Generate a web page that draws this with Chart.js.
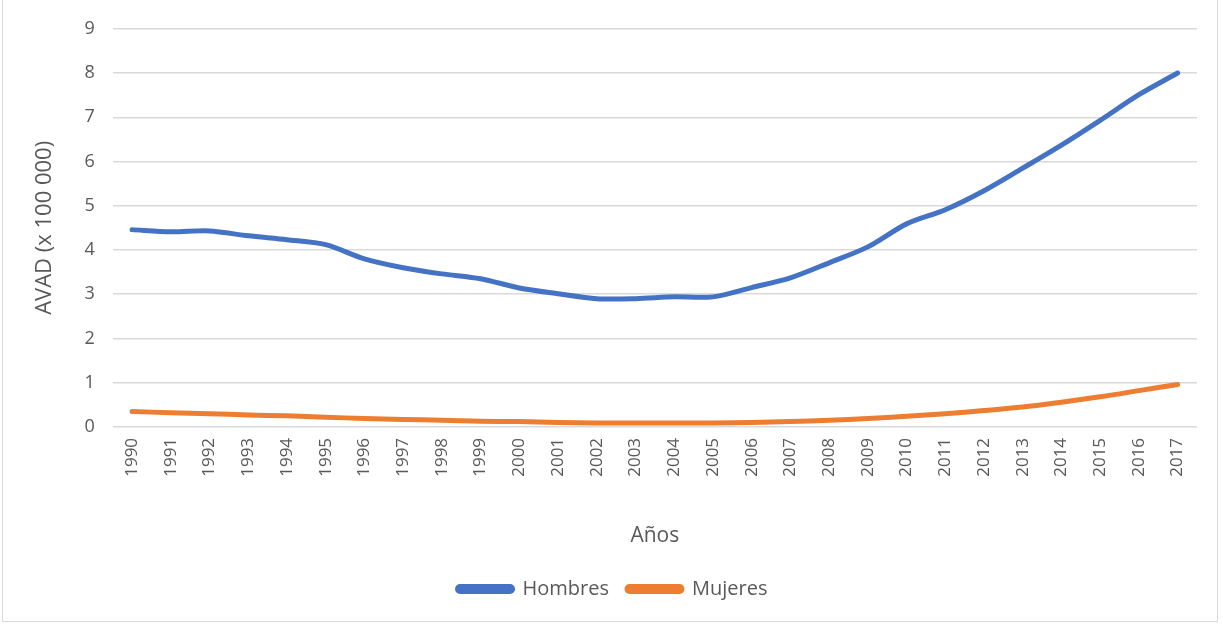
<!DOCTYPE html>
<html>
<head>
<meta charset="utf-8">
<script src="https://cdn.jsdelivr.net/npm/chart.js@4/dist/chart.umd.min.js"></script>
<style>
  html, body { margin: 0; padding: 0; background: #fff; }
  #frame {
    position: absolute; left: 2px; top: -1px;
    width: 1216px; height: 623px;
    border: 1px solid #d9d9d9; box-sizing: border-box;
  }
  #frame canvas { display: block; }
</style>
</head>
<body>
<div id="frame"><canvas id="chart"></canvas></div>
<script>
    // Series values (AVAD x 100 000)
    const years = ['1990', '1991', '1992', '1993', '1994', '1995', '1996', '1997', '1998', '1999',
        '2000', '2001', '2002', '2003', '2004', '2005', '2006', '2007', '2008', '2009',
        '2010', '2011', '2012', '2013', '2014', '2015', '2016', '2017'];

    const hombres = [4.46, 4.41, 4.43, 4.32, 4.23, 4.12, 3.80, 3.60, 3.46, 3.35,
        3.14, 3.01, 2.90, 2.90, 2.94, 2.94, 3.15, 3.37, 3.71, 4.07,
        4.59, 4.91, 5.34, 5.85, 6.37, 6.93, 7.51, 8.00];

    const mujeres = [0.35, 0.32, 0.30, 0.27, 0.25, 0.22, 0.19, 0.17, 0.15, 0.13,
        0.12, 0.10, 0.09, 0.09, 0.09, 0.09, 0.10, 0.12, 0.15, 0.19,
        0.24, 0.30, 0.37, 0.45, 0.56, 0.68, 0.82, 0.96];

    const seriesNames = ['Hombres', 'Mujeres'];
    const seriesColors = ['#4472C4', '#ED7D31'];

    const textColor = '#595959';
    const gridColor = '#d9d9d9';
    const font = "'Open Sans', 'Noto Sans', sans-serif";

    function makeDataset(label, values, color) {
        return {
            label: label,
            data: values,
            borderColor: color,
            backgroundColor: color,
            borderWidth: 5,
            tension: 0.3,
            pointRadius: 0,
            fill: false,
            borderCapStyle: 'round'
        };
    }

    new Chart(document.getElementById('chart'), {
        type: 'line',
        data: {
            labels: years,
            datasets: [
                makeDataset(seriesNames[0], hombres, seriesColors[0]),
                makeDataset(seriesNames[1], mujeres, seriesColors[1])
            ]
        },
        options: {
            responsive: true,
            maintainAspectRatio: false,
            animation: false,
            layout: {
                padding: { left: 25, right: 20, top: 27, bottom: 12 }
            },
            scales: {
                x: {
                    offset: true,
                    grid: { display: false, drawTicks: false },
                    border: { display: false },
                    ticks: {
                        color: textColor,
                        font: { family: font, size: 17 },
                        minRotation: 90,
                        maxRotation: 90,
                        autoSkip: false,
                        padding: 11
                    },
                    title: {
                        display: true,
                        text: 'Años',
                        color: textColor,
                        font: { family: font, size: 21 },
                        padding: { top: 36, bottom: 12 }
                    }
                },
                y: {
                    min: 0,
                    max: 9,
                    ticks: {
                        stepSize: 1,
                        color: textColor,
                        font: { family: font, size: 18 },
                        padding: 18
                    },
                    grid: { color: gridColor, lineWidth: 1.5, drawTicks: false },
                    border: { display: false },
                    title: {
                        display: true,
                        text: 'AVAD (x 100 000)',
                        color: textColor,
                        font: { family: font, size: 22 },
                        padding: { bottom: 8 }
                    }
                }
            },
            plugins: {
                legend: {
                    position: 'bottom',
                    labels: {
                        color: textColor,
                        font: { family: font, size: 20 },
                        boxWidth: 55,
                        boxHeight: 5,
                        useBorderRadius: true,
                        borderRadius: 2.5,
                        padding: 18
                    }
                },
                tooltip: { enabled: false }
            }
        }
    });
</script>
</body>
</html>
